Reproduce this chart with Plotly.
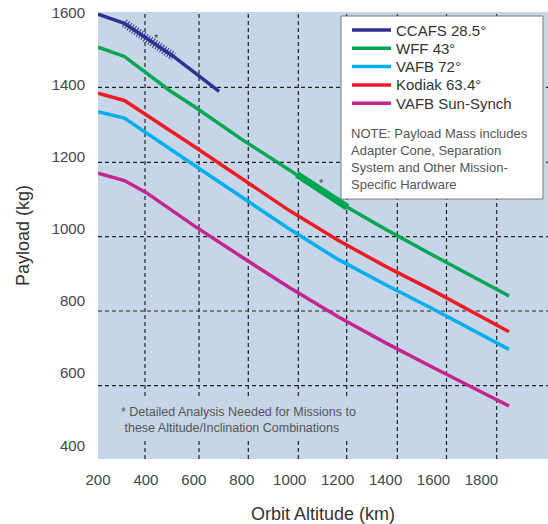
import plotly.graph_objects as go

# ---------------- data ----------------
x_ticks = [200, 400, 600, 800, 1000, 1200, 1400, 1600, 1800]
y_ticks = [400, 600, 800, 1000, 1200, 1400, 1600]

ccafs_alt = [200, 310, 515, 705]
ccafs_payload = [1595, 1570, 1478, 1381]

wff_alt = [200, 310, 500, 600, 800, 1030, 1240, 1400, 1600, 1915]
wff_payload = [1504, 1478, 1383, 1340, 1248, 1151, 1060, 999, 926, 814]

kodiak_alt = [200, 310, 600, 800, 1000, 1200, 1400, 1600, 1915]
kodiak_payload = [1376, 1356, 1229, 1139, 1050, 969, 896, 828, 715]

vafb72_alt = [200, 310, 600, 800, 1000, 1200, 1400, 1600, 1915]
vafb72_payload = [1325, 1307, 1177, 1088, 999, 916, 845, 777, 666]

sso_alt = [200, 310, 400, 500, 600, 800, 1000, 1200, 1400, 1600, 1915]
sso_payload = [1154, 1134, 1101, 1054, 1009, 922, 837, 757, 684, 615, 509]

series_names = ["CCAFS 28.5°", "WFF 43°", "VAFB 72°", "Kodiak 63.4°", "VAFB Sun-Synch"]

# ---------------- styling ----------------
FONT = "Liberation Sans"
BG = "#c6d6e8"
W, H = 548, 524
ML, MR, MT, MB = 98, 0, 12, 65
PW, PH = W - ML - MR, H - MT - MB
COLORS = ["#2e3192", "#00a651", "#00aeef", "#ed1c24", "#c4258f"]


def px_x(p):
    """pixel x -> paper fraction"""
    return (p - ML) / PW


def px_y(p):
    """pixel y -> paper fraction"""
    return (H - MB - p) / PH


fig = go.Figure()

series = [
    (ccafs_alt, ccafs_payload),
    (wff_alt, wff_payload),
    (vafb72_alt, vafb72_payload),
    (kodiak_alt, kodiak_payload),
    (sso_alt, sso_payload),
]
for name, (xs, ys), col in zip(series_names, series, COLORS):
    fig.add_trace(go.Scatter(x=xs, y=ys, mode="lines", name=name, showlegend=False,
                             line=dict(color=col, width=3.5)))

# hatched (detailed analysis) part of CCAFS
fig.add_trace(go.Scatter(x=ccafs_alt[1:3], y=ccafs_payload[1:3], mode="lines",
                         showlegend=False, hoverinfo="skip",
                         line=dict(color=COLORS[0], width=9, dash="1px,1.8px")))
# thick (detailed analysis) part of WFF
fig.add_trace(go.Scatter(x=wff_alt[5:7], y=wff_payload[5:7], mode="lines",
                         showlegend=False, hoverinfo="skip",
                         line=dict(color=COLORS[1], width=7)))

shapes = []
grid_vx = [145, 199, 248.3, 298.3, 346.7, 397.3, 446.5, 496.7]
grid_hy = [87.3, 162.3, 236.7, 311, 385.7]
for gx in grid_vx:
    shapes.append(dict(type="line", xref="paper", yref="paper", x0=px_x(gx), x1=px_x(gx),
                       y0=0, y1=1, layer="below",
                       line=dict(color="#222222", width=1.2, dash="4px,3px")))
for gy in grid_hy:
    shapes.append(dict(type="line", xref="paper", yref="paper", x0=0, x1=1,
                       y0=px_y(gy), y1=px_y(gy), layer="below",
                       line=dict(color="#222222", width=1.2, dash="4px,3px")))
# footnote background box (hides grid)
shapes.append(dict(type="rect", xref="paper", yref="paper", x0=0, x1=px_x(386),
                   y0=px_y(440), y1=px_y(399), layer="above",
                   fillcolor=BG, line=dict(width=0)))
# legend box
shapes.append(dict(type="rect", xref="paper", yref="paper", x0=px_x(341), x1=px_x(543),
                   y0=px_y(199), y1=px_y(16), layer="above",
                   fillcolor="white", line=dict(color="#7a7a7a", width=1)))

annotations = []
# legend entries (line sample + label)
legend_rows = [30, 48.3, 66.6, 84.9, 103.2]
for name, col, ry in zip(series_names, COLORS, legend_rows):
    shapes.append(dict(type="line", xref="paper", yref="paper", x0=px_x(352), x1=px_x(391),
                       y0=px_y(ry), y1=px_y(ry), layer="above",
                       line=dict(color=col, width=3.5)))
    annotations.append(dict(xref="paper", yref="paper", x=px_x(394), y=px_y(ry),
                            xanchor="left", yanchor="middle", showarrow=False, text=name,
                            font=dict(family=FONT, size=15, color="#333333")))

annotations += [
    dict(xref="paper", yref="paper", x=px_x(349), y=px_y(124), xanchor="left", yanchor="top",
         align="left", showarrow=False,
         text="NOTE: Payload Mass includes<br>Adapter Cone, Separation<br>System and Other Mission-<br>Specific Hardware",
         font=dict(family=FONT, size=13, color="#555555")),
    dict(xref="paper", yref="paper", x=px_x(119), y=px_y(420), xanchor="left", yanchor="middle",
         align="left", showarrow=False,
         text="* Detailed Analysis Needed for Missions to<br>\u00a0these Altitude/Inclination Combinations",
         font=dict(family=FONT, size=12.5, color="#555555")),
    dict(xref="x", yref="y", x=442, y=1530, showarrow=False, text="*",
         font=dict(family=FONT, size=11, color="#444444")),
    dict(xref="x", yref="y", x=1133, y=1128, showarrow=False, text="*",
         font=dict(family=FONT, size=11, color="#444444")),
]

fig.update_layout(
    width=W, height=H,
    margin=dict(l=ML, r=MR, t=MT, b=MB, pad=0, autoexpand=False),
    paper_bgcolor="white", plot_bgcolor=BG,
    font=dict(family=FONT, color="#444444"),
    shapes=shapes, annotations=annotations,
    showlegend=False,
    xaxis=dict(range=[200, 2077.6], tickvals=x_ticks, ticks="", showgrid=False,
               zeroline=False, showline=False, automargin=False,
               ticklabeloverflow="allow",
               tickfont=dict(family=FONT, size=15, color="#444444"),
               ticklabelstandoff=10,
               title=dict(text="Orbit Altitude (km)", standoff=21,
                          font=dict(family=FONT, size=18, color="#333333"))),
    yaxis=dict(range=[362, 1601.2], tickvals=y_ticks, ticks="", showgrid=False,
               zeroline=False, showline=False, automargin=False,
               ticklabeloverflow="allow",
               tickfont=dict(family=FONT, size=15, color="#444444"),
               ticklabelstandoff=12,
               title=dict(text="Payload (kg)", standoff=17,
                          font=dict(family=FONT, size=18, color="#333333"))),
)

fig.write_html("out.html",
               config={"displayModeBar": False},
               post_script="document.body.style.margin='0px';document.body.style.overflow='hidden';")
